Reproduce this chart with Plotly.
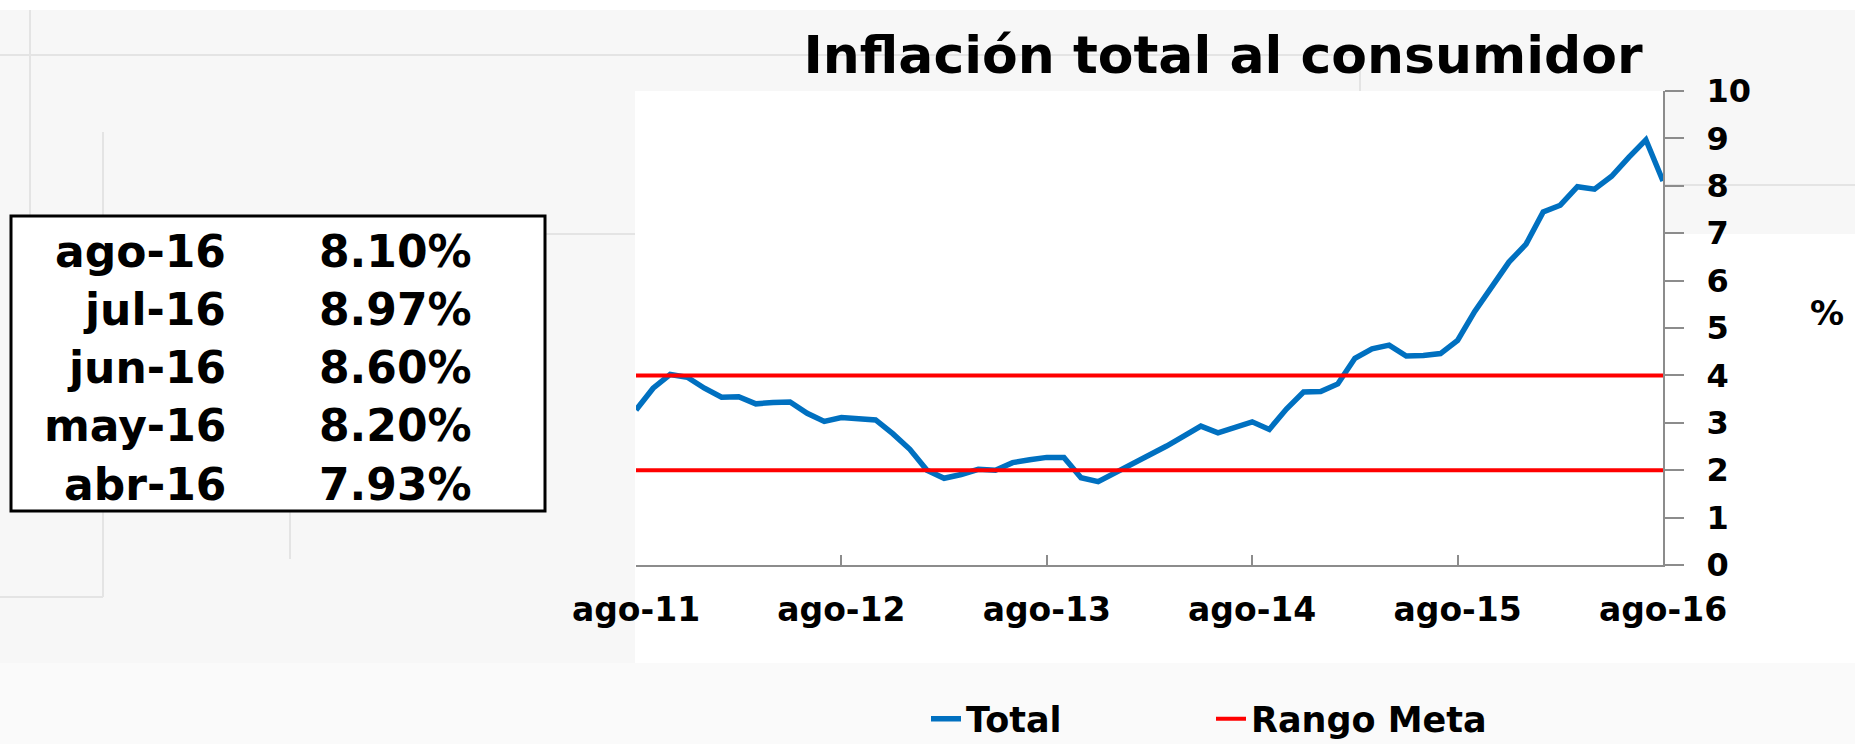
import plotly.graph_objects as go

# ---------------- data ----------------
month_abbr = ["ene", "feb", "mar", "abr", "may", "jun", "jul", "ago", "sep", "oct", "nov", "dic"]
years = [11, 12, 13, 14, 15, 16]
# monthly categories ago-11 ... ago-16
categories = [f"{m}-{y}" for y in years for i, m in enumerate(month_abbr)
              if not (y == 11 and i < 7) and not (y == 16 and i > 7)]

total = [3.27, 3.73, 4.02, 3.96, 3.73,
         3.54, 3.55, 3.40, 3.43, 3.44, 3.20, 3.03, 3.11, 3.08, 3.06, 2.77, 2.44,
         2.00, 1.83, 1.91, 2.02, 2.00, 2.16, 2.22, 2.27, 2.27, 1.84, 1.76, 1.94,
         2.13, 2.32, 2.51, 2.72, 2.93, 2.79, 2.89, 3.02, 2.86, 3.29, 3.65, 3.66,
         3.82, 4.36, 4.56, 4.64, 4.41, 4.42, 4.46, 4.74, 5.35, 5.89, 6.39, 6.77,
         7.45, 7.59, 7.98, 7.93, 8.20, 8.60, 8.97, 8.10]

rango_meta_sup = 4
rango_meta_inf = 2

tick_labels = ["ago-11", "ago-12", "ago-13", "ago-14", "ago-15", "ago-16"]
y_ticks = [0, 1, 2, 3, 4, 5, 6, 7, 8, 9, 10]

table_months = ["ago-16", "jul-16", "jun-16", "may-16", "abr-16"]
table_values = ["8.10%", "8.97%", "8.60%", "8.20%", "7.93%"]

title_text = "Inflación total al consumidor"

# ---------------- layout helpers ----------------
W, H = 1855, 744
L, R, T, B = 636, 1663, 91, 565          # plot area in pixels
FONT = "DejaVu Sans"


def px(x):
    return (x - L) / (R - L)


def py(y):
    return (B - y) / (B - T)


fig = go.Figure()

fig.add_trace(go.Scatter(
    x=categories, y=total, mode="lines", name="Total",
    line=dict(color="#0070C0", width=5.5)))

fig.add_trace(go.Scatter(
    x=categories, y=[rango_meta_sup] * len(categories), mode="lines", name="Rango Meta",
    legendgroup="meta", line=dict(color="#FF0000", width=4)))
fig.add_trace(go.Scatter(
    x=categories, y=[rango_meta_inf] * len(categories), mode="lines", name="Rango Meta",
    legendgroup="meta", showlegend=False, line=dict(color="#FF0000", width=4)))

tick_idx = [categories.index(t) for t in tick_labels]

fig.update_xaxes(
    type="category", range=[0, len(categories) - 1],
    tickmode="array", tickvals=[categories[i] for i in tick_idx], ticktext=tick_labels,
    showline=True, linecolor="#8c8c8c", linewidth=2,
    ticks="inside", ticklen=10, tickwidth=2, tickcolor="#8c8c8c",
    showgrid=False, zeroline=False, ticklabelstandoff=14,
    tickfont=dict(family=FONT, size=33, color="black", weight=700))

fig.update_yaxes(
    side="right", range=[0, 10], tickmode="array", tickvals=y_ticks,
    showline=True, linecolor="#8c8c8c", linewidth=2,
    ticks="outside", ticklen=19, tickwidth=2, tickcolor="#8c8c8c",
    showgrid=False, zeroline=False, ticklabelstandoff=16,
    tickfont=dict(family=FONT, size=32, color="black", weight=700))

shapes = []
# background blocks (spreadsheet look)
shapes.append(dict(type="rect", xref="paper", yref="paper", x0=px(0), x1=px(W), y0=py(0), y1=py(10),
                   fillcolor="white", line=dict(width=0), layer="below"))
shapes.append(dict(type="rect", xref="paper", yref="paper", x0=px(635), x1=px(R), y0=py(91), y1=py(663),
                   fillcolor="white", line=dict(width=0), layer="below"))
shapes.append(dict(type="rect", xref="paper", yref="paper", x0=px(R), x1=px(W), y0=py(234), y1=py(663),
                   fillcolor="white", line=dict(width=0), layer="below"))
shapes.append(dict(type="rect", xref="paper", yref="paper", x0=px(0), x1=px(W), y0=py(663), y1=py(H),
                   fillcolor="#fafafa", line=dict(width=0), layer="below"))
faint = dict(color="#e4e4e4", width=2)
for (x0, y0, x1, y1) in [(0, 55, 1360, 55), (30, 10, 30, 215), (103, 132, 103, 215),
                         (103, 512, 103, 597), (0, 597, 103, 597), (290, 512, 290, 559),
                         (546, 234, 635, 234), (1360, 55, 1360, 91), (R, 185, W, 185)]:
    shapes.append(dict(type="line", xref="paper", yref="paper", x0=px(x0), x1=px(x1),
                       y0=py(y0), y1=py(y1), line=faint, layer="below"))
# table box
shapes.append(dict(type="rect", xref="paper", yref="paper", x0=px(11), x1=px(545), y0=py(216), y1=py(511),
                   fillcolor="white", line=dict(color="black", width=3)))

annotations = []
row_y = [251, 309, 367, 425, 484]
for m, v, yy in zip(table_months, table_values, row_y):
    annotations.append(dict(text=m, xref="paper", yref="paper", x=px(228), y=py(yy),
                            xanchor="right", yanchor="middle", showarrow=False,
                            font=dict(family=FONT, size=44, color="black", weight=700)))
    annotations.append(dict(text=v, xref="paper", yref="paper", x=px(474), y=py(yy),
                            xanchor="right", yanchor="middle", showarrow=False,
                            font=dict(family=FONT, size=44, color="black", weight=700)))
annotations.append(dict(text="%", xref="paper", yref="paper", x=px(1827), y=py(313),
                        xanchor="center", yanchor="middle", showarrow=False,
                        font=dict(family=FONT, size=34, color="black", weight=700)))

fig.update_layout(
    width=W, height=H,
    margin=dict(l=L, r=W - R, t=T, b=H - B, pad=0, autoexpand=False),
    paper_bgcolor="#f7f7f7", plot_bgcolor="white",
    title=dict(text=title_text, xref="container", yref="container",
               x=1223 / W, y=1 - 55 / H, xanchor="center", yanchor="middle",
               font=dict(family=FONT, size=52, color="black", weight=700)),
    showlegend=True,
    legend=dict(orientation="h", xref="paper", yref="paper", x=px(926), y=py(719),
                xanchor="left", yanchor="middle", bgcolor="rgba(0,0,0,0)",
                entrywidth=240, entrywidthmode="pixels",
                font=dict(family=FONT, size=35, color="black", weight=700)),
    shapes=shapes, annotations=annotations,
)

fig.write_html("out.html", config={"displayModeBar": False},
               post_script="document.body.style.margin='0';document.body.style.overflow='hidden';")
